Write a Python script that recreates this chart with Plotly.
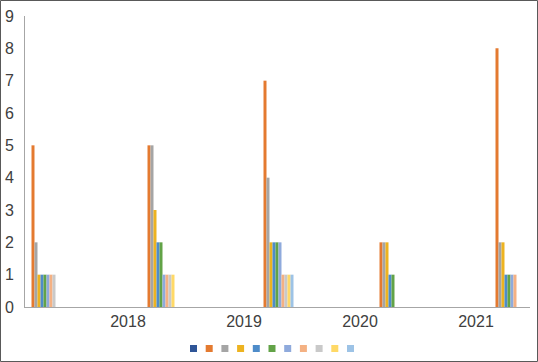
import plotly.graph_objects as go

categories = ["", "2018", "2019", "2020", "2021"]
series_names = ["Series 1", "Series 2", "Series 3", "Series 4", "Series 5", "Series 6",
                "Series 7", "Series 8", "Series 9", "Series 10", "Series 11"]
s1 = [0, 0, 0, 0, 0]
s2 = [5, 5, 7, 2, 8]
s3 = [2, 5, 4, 2, 2]
s4 = [1, 3, 2, 2, 2]
s5 = [1, 2, 2, 1, 1]
s6 = [1, 2, 2, 1, 1]
s7 = [1, 1, 2, 0, 1]
s8 = [1, 1, 1, 0, 1]
s9 = [1, 1, 1, 0, 0]
s10 = [0, 1, 1, 0, 0]
s11 = [0, 0, 1, 0, 0]
series_values = [s1, s2, s3, s4, s5, s6, s7, s8, s9, s10, s11]
y_ticks = [0, 1, 2, 3, 4, 5, 6, 7, 8, 9]

colors = ["#2F5597", "#E47A30", "#A5A5A5", "#EDB320", "#4E8CC9", "#62A347",
          "#8FAADC", "#F4B183", "#C9C9C9", "#FFD966", "#9DC3E6"]

W, H = 538, 362
L, R, T, B = 25, 8, 16, 55
px_per_cat = 116.0
bar_w = 3.0 / px_per_cat
first_off = 16.5 / px_per_cat

xs = list(range(len(categories)))
fig = go.Figure()
for k, (name, vals) in enumerate(zip(series_names, series_values)):
    fig.add_trace(go.Bar(
        x=xs, y=vals, name=name, showlegend=False,
        marker=dict(color=colors[k], line=dict(width=0)),
        width=bar_w, offset=first_off + k * bar_w,
    ))

plot_w = W - L - R
plot_h = H - T - B
x0 = (L - 12) / px_per_cat
x1 = x0 + plot_w / px_per_cat

# legend keys (small squares, no text) drawn in paper coordinates
shapes = []
key_left_px, key_step_px, key_size_px, key_top_px = 190, 15.7, 7, 345
for k in range(len(series_names)):
    kx0 = key_left_px + k * key_step_px
    shapes.append(dict(
        type="rect", xref="paper", yref="paper",
        x0=(kx0 - L) / plot_w, x1=(kx0 + key_size_px - L) / plot_w,
        y0=(H - B - (key_top_px + key_size_px)) / plot_h, y1=(H - B - key_top_px) / plot_h,
        line=dict(width=0), fillcolor=colors[k], layer="above",
    ))
shapes.append(dict(
    type="rect", xref="paper", yref="paper",
    x0=-(L - 0.5) / plot_w, x1=1 + (R - 0.5) / plot_w,
    y0=-(B - 0.5) / plot_h, y1=1 + (T - 0.5) / plot_h,
    line=dict(color="#595959", width=1), fillcolor="rgba(0,0,0,0)", layer="above",
))

fig.update_layout(
    width=W, height=H,
    margin=dict(l=L, r=R, t=T, b=B),
    paper_bgcolor="white", plot_bgcolor="white",
    barmode="overlay", showlegend=False,
    font=dict(family="Liberation Sans, Arial, sans-serif", size=16, color="#404040"),
    xaxis=dict(
        range=[x0, x1], tickmode="array", tickvals=xs, ticktext=categories,
        showgrid=False, zeroline=False, showline=True, linecolor="#A6A6A6", linewidth=1,
        ticks="", ticklabelstandoff=0, automargin=False,
    ),
    yaxis=dict(
        range=[0, 9], tickmode="array", tickvals=y_ticks,
        showgrid=False, zeroline=False, showline=True, linecolor="#A6A6A6", linewidth=1,
        ticks="", ticklabelstandoff=7, automargin=False,
    ),
    shapes=shapes,
)

fig.write_html(
    "out.html",
    config={"displayModeBar": False},
    post_script="document.body.style.margin='0';document.body.style.overflow='hidden';",
)
